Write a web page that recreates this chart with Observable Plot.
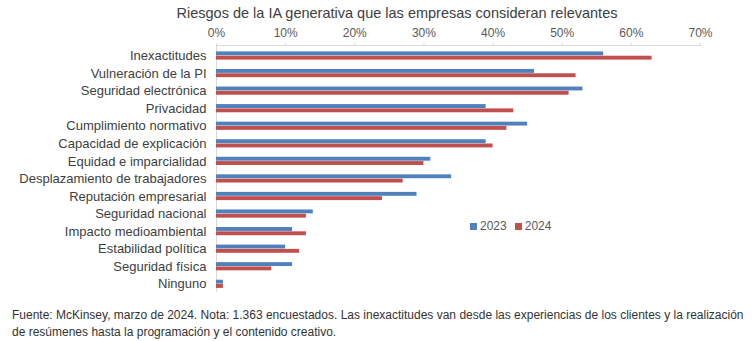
<!DOCTYPE html>
<html>
<head>
<meta charset="utf-8">
<script src="https://cdn.jsdelivr.net/npm/d3@7"></script>
<script src="https://cdn.jsdelivr.net/npm/@observablehq/plot@0.6"></script>
<style>
  html, body { margin: 0; padding: 0; background: #fff; }
  body { width: 756px; height: 341px; overflow: hidden; font-family: "Liberation Sans", Arial, sans-serif; }
  #wrap { position: relative; width: 756px; height: 341px; }
  #title { position: absolute; z-index: 2; left: 0; top: 3px; width: 756px; line-height: 20px; font-size: 14.5px; color: #404040; text-align: center; padding-left: 38px; box-sizing: border-box; }
  #chart { position: absolute; z-index: 1; left: 0; top: 19px; }
  #legend { position: absolute; z-index: 3; left: 470px; top: 219px; font-size: 12px; color: #595959; display: flex; align-items: center; }
  #legend .sw { display: inline-block; width: 7px; height: 7px; margin-right: 3px; }
  #legend .item { display: flex; align-items: center; margin-right: 8px; }
  #footer { position: absolute; left: 12px; top: 307px; width: 740px; font-size: 12px; line-height: 17px; color: #333; }
  svg { display: block; }
</style>
</head>
<body>
<div id="wrap">
  <div id="title">Riesgos de la IA generativa que las empresas consideran relevantes</div>
  <div id="chart"></div>
  <div id="legend"></div>
  <div id="footer">Fuente: McKinsey, marzo de 2024. Nota: 1.363 encuestados. Las inexactitudes van desde las experiencias de los clientes y la realización de resúmenes hasta la programación y el contenido creativo.</div>
</div>
<script>
const categories = [
  "Inexactitudes",
  "Vulneración de la PI",
  "Seguridad electrónica",
  "Privacidad",
  "Cumplimiento normativo",
  "Capacidad de explicación",
  "Equidad e imparcialidad",
  "Desplazamiento de trabajadores",
  "Reputación empresarial",
  "Seguridad nacional",
  "Impacto medioambiental",
  "Estabilidad política",
  "Seguridad física",
  "Ninguno"
];
const values2023 = [56, 46, 53, 39, 45, 39, 31, 34, 29, 14, 11, 10, 11, 1];
const values2024 = [63, 52, 51, 43, 42, 40, 30, 27, 24, 13, 13, 12, 8, 1];
const series = ["2023", "2024"];
const colors = ["#4F81BD", "#C0504D"];
const xTicks = [0, 10, 20, 30, 40, 50, 60, 70];

const data = categories.map((c, i) => ({cat: c, v2023: values2023[i], v2024: values2024[i]}));

const chart = Plot.plot({
  width: 756,
  height: 278,
  marginTop: 26,
  marginLeft: 216,
  marginRight: 56,
  marginBottom: 5,
  style: {fontFamily: "Liberation Sans, Arial, sans-serif", background: "none"},
  x: {domain: [0, 70], axis: null},
  y: {domain: categories, paddingInner: 0.533, paddingOuter: 0.299, align: 0.61, round: false, axis: null},
  marks: [
    Plot.ruleX([0], {stroke: "#d9d9d9"}),
    Plot.axisX(xTicks, {anchor: "top", tickSize: 3, stroke: "#d9d9d9", tickFormat: () => ""}),
    Plot.axisX(xTicks, {anchor: "top", tickSize: 0, tickPadding: 9, tickFormat: d => d + "%", fontSize: 12, fill: "#595959"}),
    Plot.axisY({anchor: "left", label: null, tickSize: 0, tickPadding: 10, fontSize: 13, fill: "#404040"}),
    Plot.barX(data, {x1: 0, x2: "v2023", y: "cat", fill: colors[0], insetBottom: 4.3}),
    Plot.barX(data, {x1: 0, x2: "v2024", y: "cat", fill: colors[1], insetTop: 4.3})
  ]
});

// top axis line drawn through the plot's own x scale
const xs = chart.scale("x");
d3.select(chart).append("line")
  .attr("x1", xs.apply(0)).attr("x2", xs.apply(70))
  .attr("y1", 26.5).attr("y2", 26.5)
  .attr("stroke", "#d9d9d9");

document.getElementById("chart").appendChild(chart);

const legend = document.getElementById("legend");
series.forEach((s, i) => {
  const item = document.createElement("span");
  item.className = "item";
  const sw = document.createElement("span");
  sw.className = "sw";
  sw.style.background = colors[i];
  item.appendChild(sw);
  item.appendChild(document.createTextNode(s));
  legend.appendChild(item);
});
</script>
</body>
</html>
